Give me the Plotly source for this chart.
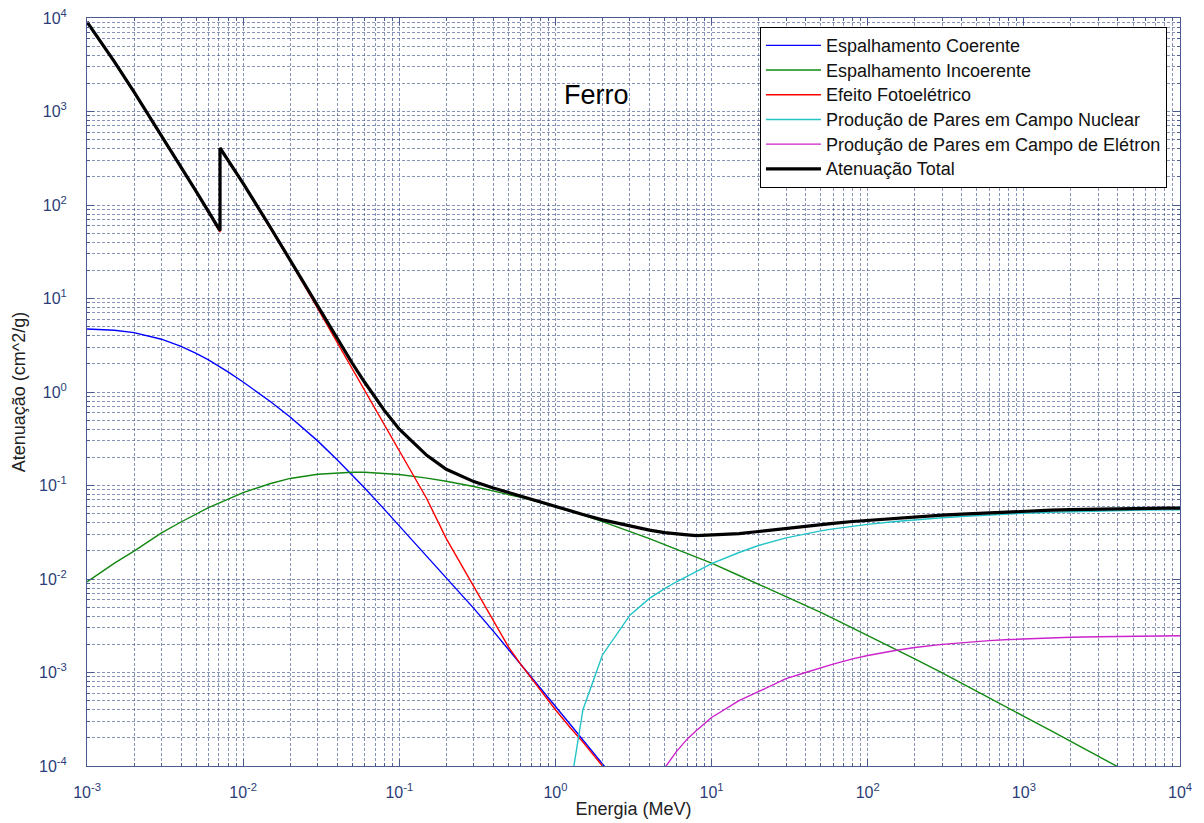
import plotly.graph_objects as go

# Photon energy grid (MeV); K-edge of iron repeated for the jump
energia = [0.001, 0.0015, 0.002, 0.003, 0.004, 0.005, 0.006, 0.007, 0.007112, 0.007112,
           0.008, 0.01, 0.015, 0.02, 0.03, 0.04, 0.05, 0.06, 0.08, 0.1,
           0.15, 0.2, 0.3, 0.4, 0.5, 0.6, 0.8, 1.0, 1.25, 1.5,
           2.0, 3.0, 4.0, 5.0, 6.0, 7.0, 8.0, 10.0, 15.0, 20.0,
           30.0, 40.0, 50.0, 60.0, 80.0, 100.0, 150.0, 200.0, 300.0, 400.0,
           500.0, 600.0, 800.0, 1000.0, 1500.0, 2000.0, 3000.0, 4000.0, 5000.0, 6000.0,
           8000.0, 10000.0]

# Mass attenuation components for iron (cm^2/g)
coerente = [4.72, 4.57, 4.31, 3.67, 3.08, 2.59, 2.20, 1.885, 1.855, 1.855,
            1.64, 1.28, 0.786, 0.541, 0.300, 0.189, 0.129, 0.0939, 0.0559, 0.0370,
            0.01784, 0.01049, 0.00485, 0.002769, 0.001772, 0.001231, 0.000688, 0.000436, 0.000276, 0.000190,
            0.000105, 0.000046, None, None, None, None, None, None, None, None,
            None, None, None, None, None, None, None, None, None, None,
            None, None, None, None, None, None, None, None, None, None,
            None, None]

incoerente = [0.0093, 0.0148, 0.0199, 0.0312, 0.0407, 0.0500, 0.0580, 0.0648, 0.0655, 0.0655,
              0.0710, 0.0840, 0.1050, 0.1190, 0.1320, 0.1370, 0.1385, 0.1385, 0.1355, 0.1310,
              0.1200, 0.1110, 0.0975, 0.0878, 0.0805, 0.0746, 0.0658, 0.0592, 0.0530, 0.0482,
              0.0411, 0.0324, 0.0270, 0.0233, 0.0206, 0.0186, 0.0169, 0.0148, 0.0109, 0.0088,
              0.0065, 0.0052, 0.0044, 0.0038, 0.0030, 0.0025, 0.00178, 0.0014, 0.00099, 0.00077,
              0.00063, 0.00054, 0.00042, 0.00034, 0.000237, 0.000182, 0.000126, 0.000098, 0.00008, 0.000068,
              0.000053, 0.000043]

fotoeletrico = [9080, 3395, 1622, 554, 254, 137, 82.6, 53.3, 51.2, 405,
                303, 169, 56.2, 25.1, 7.85, 3.40, 1.77, 1.04, 0.452, 0.237,
                0.0722, 0.027, 0.0082, 0.0036, 0.00188, 0.00122, 0.00064, 0.0004, 0.000255, 0.00018,
                0.0001, 0.00005, None, None, None, None, None, None, None, None,
                None, None, None, None, None, None, None, None, None, None,
                None, None, None, None, None, None, None, None, None, None,
                None, None]

pares_nuclear = [None, None, None, None, None, None, None, None, None, None,
                 None, None, None, None, None, None, None, None, None, None,
                 None, None, None, None, None, None, None, None, 0.00006, 0.0004,
                 0.00154, 0.0041, 0.0062, 0.0079, 0.0094, 0.0108, 0.0120, 0.0146, 0.0192, 0.0228,
                 0.0275, 0.0305, 0.0327, 0.0344, 0.0368, 0.0384, 0.0412, 0.0430, 0.0452, 0.0466,
                 0.0476, 0.0484, 0.0496, 0.0505, 0.0518, 0.0526, 0.0535, 0.0540, 0.0543, 0.0545,
                 0.0547, 0.0548]

pares_eletron = [None, None, None, None, None, None, None, None, None, None,
                 None, None, None, None, None, None, None, None, None, None,
                 None, None, None, None, None, None, None, None, None, None,
                 None, None, 0.000045, 0.000095, 0.000145, 0.000195, 0.00024, 0.00033, 0.0005, 0.00063,
                 0.00086, 0.0010, 0.00113, 0.00123, 0.0014, 0.00152, 0.00172, 0.00185, 0.0020, 0.00209,
                 0.00215, 0.00219, 0.00225, 0.00229, 0.00235, 0.00238, 0.00241, 0.00243, 0.00244, 0.00245,
                 0.00246, 0.00247]

total = [9085, 3400, 1626, 558, 257, 140, 84.9, 55.3, 53.2, 407,
         305, 170.4, 57.1, 25.8, 8.27, 3.71, 2.03, 1.27, 0.64, 0.40,
         0.21, 0.149, 0.110, 0.094, 0.084, 0.077, 0.0672, 0.0602, 0.0536, 0.0490,
         0.0429, 0.0366, 0.0333, 0.0313, 0.0301, 0.0296, 0.0291, 0.0297, 0.0306, 0.0322,
         0.0349, 0.0367, 0.0382, 0.0394, 0.0412, 0.0424, 0.0447, 0.0463, 0.0482, 0.0495,
         0.0504, 0.0511, 0.0523, 0.0531, 0.0544, 0.0552, 0.0560, 0.0565, 0.0568, 0.0570,
         0.0572, 0.0573]

series = [
    ("Espalhamento Coerente", coerente, "#0000ff", 1.4),
    ("Espalhamento Incoerente", incoerente, "#118811", 1.4),
    ("Efeito Fotoelétrico", fotoeletrico, "#ff0000", 1.4),
    ("Produção de Pares em Campo Nuclear", pares_nuclear, "#22c4c8", 1.4),
    ("Produção de Pares em Campo de Elétron", pares_eletron, "#cc22cc", 1.4),
    ("Atenuação Total", total, "#000000", 3.2),
]

x_decades = list(range(-3, 5))
y_decades = list(range(-4, 5))
x_tickvals = [10.0 ** d for d in x_decades]
y_tickvals = [10.0 ** d for d in y_decades]
x_ticktext = ["10<sup>%d</sup>" % d for d in x_decades]
y_ticktext = ["10<sup>%d</sup>" % d for d in y_decades]
x_minor = [m * 10.0 ** d for d in x_decades[:-1] for m in range(2, 10)]
y_minor = [m * 10.0 ** d for d in y_decades[:-1] for m in range(2, 10)]

FONT = "Liberation Sans, Arial, sans-serif"
AXIS_COLOR = "#4a5a90"
GRID_COLOR = "rgba(55,75,135,0.6)"
TICK_FONT_COLOR = "#2b3d78"
TITLE_COLOR = "#222222"

fig = go.Figure()
for name, vals, color, width in series:
    fig.add_trace(go.Scatter(
        x=energia, y=vals, mode="lines",
        name='<span style="font-size:18px">%s</span>' % name,
        line=dict(color=color, width=width),
    ))

common_axis = dict(
    type="log", automargin=False,
    showline=True, linecolor=AXIS_COLOR, linewidth=1, mirror="ticks",
    ticks="inside", ticklen=7, tickcolor=AXIS_COLOR, tickwidth=1,
    showgrid=True, gridcolor=GRID_COLOR, gridwidth=1, griddash="3px,2px",
    zeroline=False,
    tickfont=dict(family=FONT, size=16, color=TICK_FONT_COLOR),
)
minor_axis = dict(ticks="inside", ticklen=3, tickcolor=AXIS_COLOR,
                  showgrid=True, gridcolor=GRID_COLOR, griddash="3px,2px", gridwidth=1)

fig.update_xaxes(
    **common_axis,
    range=[-3, 4],
    tickvals=x_tickvals, ticktext=x_ticktext,
    ticklabelstandoff=12,
    minor=dict(tickvals=x_minor, **minor_axis),
    title=dict(text="Energia (MeV)", font=dict(family=FONT, size=18, color=TITLE_COLOR), standoff=2),
)
fig.update_yaxes(
    **common_axis,
    range=[-4, 4],
    tickvals=y_tickvals, ticktext=y_ticktext,
    ticklabelstandoff=16,
    minor=dict(tickvals=y_minor, **minor_axis),
    title=dict(text="Atenuação (cm^2/g)", font=dict(family=FONT, size=18, color=TITLE_COLOR), standoff=8),
)

fig.add_annotation(
    text="Ferro", xref="paper", yref="paper", x=0.4666, y=0.897,
    showarrow=False, font=dict(family=FONT, size=27, color="#000000"),
    xanchor="center", yanchor="middle",
)

fig.update_layout(
    width=1204, height=823,
    margin=dict(l=87, r=24, t=18, b=57),
    paper_bgcolor="white", plot_bgcolor="white",
    font=dict(family=FONT, size=16, color="#111111"),
    showlegend=True,
    legend=dict(
        x=0.6157, y=0.988, xanchor="left", yanchor="top",
        bgcolor="white", bordercolor="#000000", borderwidth=1,
        font=dict(family=FONT, size=16.7, color="#111111"),
        itemwidth=55,
    ),
)

fig.write_html("out.html")
